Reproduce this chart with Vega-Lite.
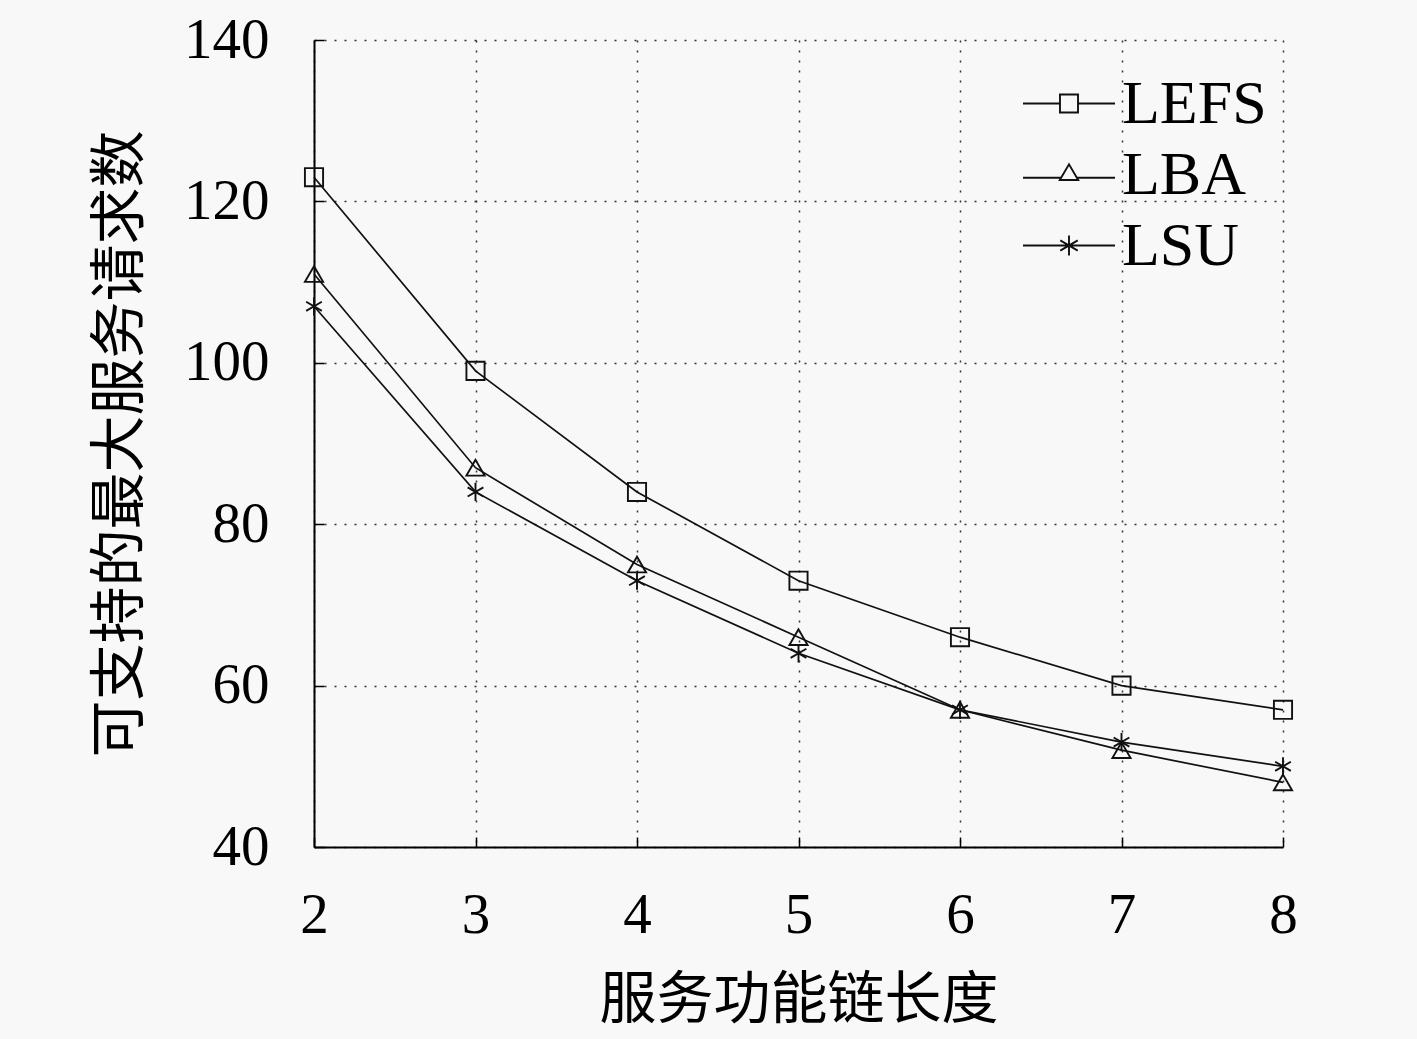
{
  "$schema": "https://vega.github.io/schema/vega-lite/v6.json",
  "width": 969,
  "height": 807,
  "autosize": {"type": "none"},
  "padding": {"left": 314, "top": 40, "right": 134, "bottom": 192},
  "background": "#f8f8f8",
  "data": {
    "values": [
      {"series": "LEFS", "len": 2, "req": 123},
      {"series": "LEFS", "len": 3, "req": 99},
      {"series": "LEFS", "len": 4, "req": 84},
      {"series": "LEFS", "len": 5, "req": 73},
      {"series": "LEFS", "len": 6, "req": 66},
      {"series": "LEFS", "len": 7, "req": 60},
      {"series": "LEFS", "len": 8, "req": 57},
      {"series": "LBA", "len": 2, "req": 111},
      {"series": "LBA", "len": 3, "req": 87},
      {"series": "LBA", "len": 4, "req": 75},
      {"series": "LBA", "len": 5, "req": 66},
      {"series": "LBA", "len": 6, "req": 57},
      {"series": "LBA", "len": 7, "req": 52},
      {"series": "LBA", "len": 8, "req": 48},
      {"series": "LSU", "len": 2, "req": 107},
      {"series": "LSU", "len": 3, "req": 84},
      {"series": "LSU", "len": 4, "req": 73},
      {"series": "LSU", "len": 5, "req": 64},
      {"series": "LSU", "len": 6, "req": 57},
      {"series": "LSU", "len": 7, "req": 53},
      {"series": "LSU", "len": 8, "req": 50}
    ]
  },
  "encoding": {
    "x": {
      "field": "len",
      "type": "quantitative",
      "scale": {"domain": [2, 8], "nice": false, "zero": false},
      "axis": {
        "title": "服务功能链长度",
        "values": [2, 3, 4, 5, 6, 7, 8],
        "titleX": 484.5,
        "titleY": 153,
        "titleBaseline": "middle",
        "labelPadding": 50,
        "labelFlush": false
      }
    },
    "y": {
      "field": "req",
      "type": "quantitative",
      "scale": {"domain": [40, 140], "nice": false, "zero": false},
      "axis": {
        "title": "可支持的最大服务请求数",
        "values": [40, 60, 80, 100, 120, 140],
        "titleX": -194,
        "titleY": 403.5,
        "titleAngle": -90,
        "titleBaseline": "middle",
        "titleAlign": "center",
        "labelPadding": 55,
        "labelFlush": false
      }
    }
  },
  "layer": [
    {
      "mark": {"type": "line", "color": "#111", "strokeWidth": 1.7},
      "encoding": {"detail": {"field": "series"}}
    },
    {
      "mark": {"type": "point", "filled": false, "stroke": "#111", "strokeWidth": 1.9, "opacity": 1},
      "encoding": {
        "shape": {
          "field": "series",
          "type": "nominal",
          "scale": {
            "domain": ["LEFS", "LBA", "LSU"],
            "range": ["square", "triangle-up", "M0,-1V1M-0.866,-0.5L0.866,0.5M-0.866,0.5L0.866,-0.5"]
          },
          "legend": null
        },
        "size": {"value": 330}
      }
    },
    {
      "transform": [{"filter": "datum.len > 100"}],
      "mark": {"type": "point", "filled": false, "stroke": "#111", "strokeWidth": 1.9, "opacity": 1},
      "encoding": {
        "shape": {
          "field": "series",
          "type": "nominal",
          "scale": {
            "domain": ["LEFS", "LBA", "LSU"],
            "range": [
              "M-1,0H-0.196M0.196,0H1M-0.196,-0.196H0.196V0.196H-0.196Z",
              "M-1,0.07H-0.16M0.16,0.07H1M-0.2,0.12L0,-0.22L0.2,0.12Z",
              "M-1,0H1M0,-0.22V0.22M-0.19,-0.11L0.19,0.11M-0.19,0.11L0.19,-0.11"
            ]
          },
          "legend": {
            "title": null,
            "orient": "none",
            "legendX": 708,
            "legendY": 28,
            "symbolSize": 8464,
            "symbolFillColor": "transparent",
            "symbolStrokeColor": "#111",
            "symbolStrokeWidth": 1.9,
            "labelOffset": 6,
            "clipHeight": 71,
            "rowPadding": 0
          }
        }
      }
    }
  ],
  "resolve": {"scale": {"shape": "independent"}},
  "config": {
    "view": {"stroke": null},
    "axis": {
      "domainColor": "#000",
      "domainWidth": 2,
      "tickColor": "#000",
      "tickWidth": 1.5,
      "tickSize": -10,
      "gridColor": "#333",
      "gridWidth": 1.5,
      "gridDash": [2, 8],
      "gridOpacity": 1,
      "labelFont": "Liberation Serif",
      "labelFontSize": 57,
      "labelColor": "#000",
      "titleFont": "Noto Sans CJK SC",
      "titleFontSize": 57,
      "titleFontWeight": "normal",
      "titleColor": "#000"
    },
    "legend": {
      "labelFont": "Liberation Serif",
      "labelFontSize": 62,
      "labelColor": "#000",
      "padding": 0
    }
  }
}
